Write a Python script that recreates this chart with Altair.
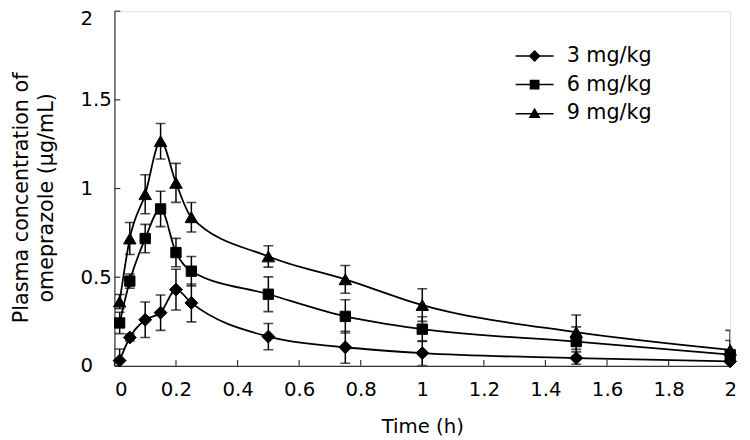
import altair as alt
import pandas as pd

doses = ["3 mg/kg", "6 mg/kg", "9 mg/kg"]
time_h = [0.017, 0.05, 0.1, 0.15, 0.2, 0.25, 0.5, 0.75, 1.0, 1.5, 2.0]

mean_3 = [0.03, 0.16, 0.26, 0.30, 0.43, 0.355, 0.165, 0.105, 0.072, 0.044, 0.025]
sd_3 = [0.065, 0.02, 0.10, 0.10, 0.115, 0.107, 0.074, 0.09, 0.07, 0.035, 0.03]

mean_6 = [0.242, 0.478, 0.718, 0.885, 0.639, 0.534, 0.404, 0.279, 0.207, 0.137, 0.063]
sd_6 = [0.06, 0.04, 0.08, 0.10, 0.08, 0.083, 0.098, 0.094, 0.07, 0.083, 0.08]

mean_9 = [0.362, 0.718, 0.968, 1.267, 1.032, 0.838, 0.617, 0.488, 0.343, 0.19, 0.09]
sd_9 = [0.04, 0.09, 0.11, 0.10, 0.11, 0.083, 0.06, 0.078, 0.092, 0.097, 0.11]

x_ticks = [0, 0.2, 0.4, 0.6, 0.8, 1.0, 1.2, 1.4, 1.6, 1.8, 2.0]
y_ticks = [0, 0.5, 1.0, 1.5, 2.0]

shapes = ["diamond", "square", "triangle-up"]
sizes = [170, 110, 160]
# legend symbols: a short horizontal line (thin filled bar) through each marker
legend_paths = [
    "M-3.5,-0.14H3.5V0.14H-3.5ZM0,-1.1L1.1,0L0,1.1L-1.1,0Z",
    "M-3.5,-0.14H3.5V0.14H-3.5ZM-0.9,-0.9H0.9V0.9H-0.9Z",
    "M-3.5,-0.04H3.5V0.24H-3.5ZM0,-1L1.1,0.9L-1.1,0.9Z",
]

rows = []
for dose, means, sds in zip(doses, [mean_3, mean_6, mean_9], [sd_3, sd_6, sd_9]):
    for t, m, s in zip(time_h, means, sds):
        rows.append({"dose": dose, "t": t, "conc": m, "lo": m - s, "hi": m + s})
df = pd.DataFrame(rows)
xt = pd.DataFrame({"t": x_ticks})
yt = pd.DataFrame({"conc": y_ticks})

W, H = 625, 360
FONT = "DejaVu Sans"
AX = "#333333"

x_scale = alt.Scale(domain=[0, 2], nice=False, zero=False)
y_scale = alt.Scale(domain=[0, 2], nice=False)

x_axis = alt.Axis(
    values=x_ticks, format="~g", title="Time (h)", ticks=False, tickSize=0,
    grid=False, domainColor=AX, domainWidth=1.2, labelFontSize=20, labelFont=FONT,
    labelColor="black", labelPadding=14, titleFontSize=20, titleFont=FONT,
    titleFontWeight="normal", titleColor="black", titlePadding=18, labelOverlap=False,
    labelAlign={"condition": {"test": "datum.value == 0", "value": "left"}, "value": "center"},
)
y_axis = alt.Axis(
    values=y_ticks, format="~g", title=["Plasma concentration of", "omeprazole (\u03bcg/mL)"],
    ticks=False, tickSize=0, grid=False, domainColor=AX, domainWidth=1.2,
    labelFontSize=20, labelFont=FONT, labelColor="black", labelAlign="left",
    labelPadding=35, titleFontSize=21, titleFont=FONT, titleFontWeight="normal",
    titleColor="black", titleX=-84, titleY=H / 2 + 9, titleLineHeight=25,
    labelOverlap=False,
    labelOffset={"condition": {"test": "datum.value == 2", "value": 8}, "value": 0},
)

def X(field="t"):
    return alt.X(f"{field}:Q", scale=x_scale, axis=x_axis)

def Y(field):
    return alt.Y(f"{field}:Q", scale=y_scale, axis=y_axis)

base = alt.Chart(df)

err_rule = base.mark_rule(color="black", strokeWidth=1.5, clip=True).encode(
    x=X(), y=Y("lo"), y2="hi:Q", detail="dose:N"
)
err_caps = base.transform_fold(["lo", "hi"], as_=["end", "value"]).mark_tick(
    orient="horizontal", color="black", size=10, thickness=1.6, clip=True
).encode(x=X(), y=Y("value"), detail="dose:N")

lines = base.mark_line(color="black", strokeWidth=1.8, interpolate="monotone").encode(
    x=X(), y=Y("conc"), detail="dose:N"
)

point_layers = []
for dose, shp, sz in zip(doses, shapes, sizes):
    point_layers.append(
        base.transform_filter(alt.datum.dose == dose).mark_point(
            shape=shp, size=sz, filled=True, fill="black", stroke="black",
            strokeWidth=1, opacity=1
        ).encode(x=X(), y=Y("conc"))
    )

legend_layer = base.transform_filter("false").mark_point(
    filled=True, fill="black", opacity=1
).encode(
    x=X(), y=Y("conc"),
    shape=alt.Shape(
        "dose:N",
        scale=alt.Scale(domain=doses, range=legend_paths),
        legend=alt.Legend(
            title=None, orient="none", legendX=416, legendY=35, padding=0,
            labelFontSize=21, labelFont=FONT, labelColor="black",
            symbolSize=121, symbolFillColor="black", symbolOpacity=1,
            rowPadding=7, labelOffset=22,
        ),
    ),
)

xtick_layer = alt.Chart(xt).mark_rule(color=AX, strokeWidth=1.2).encode(
    x=X(), y=alt.value(H - 6), y2=alt.value(H)
)
ytick_layer = alt.Chart(yt).mark_rule(color=AX, strokeWidth=1.2).encode(
    y=Y("conc"), x=alt.value(0), x2=alt.value(6)
)

chart = alt.layer(
    xtick_layer, ytick_layer, err_rule, err_caps, lines, *point_layers, legend_layer
).properties(
    width=W, height=H,
    autosize=alt.AutoSizeParams(type="none"),
    padding={"left": 108, "top": 0, "right": 12, "bottom": 72},
).configure_view(stroke=None).configure(font=FONT)

chart.save("out.html", embed_options={"renderer": "svg", "actions": False})
